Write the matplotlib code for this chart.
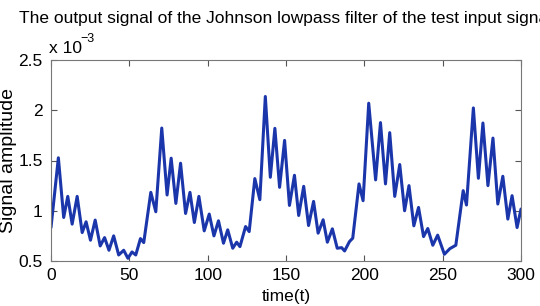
import matplotlib
matplotlib.use('Agg')
import matplotlib.pyplot as plt
import numpy as np

# time samples (extrema) and amplitude in units of 1e-3
t = [0, 4.7, 8.1, 10.7, 13.5, 16.7, 19.9, 22.4, 25.2, 28.2,
     31.4, 34.2, 37.0, 40.0, 43.2, 46.4, 49.1, 51.7, 54.1, 57.1,
     59.2, 63.7, 66.9, 70.7, 74.1, 76.7, 79.7, 82.7, 85.9, 88.7,
     91.5, 94.4, 97.8, 101.0, 104.0, 106.9, 110.1, 112.8, 116.0, 118.5,
     120.6, 124.2, 126.5, 130.1, 133.3, 136.8, 140.0, 142.9, 145.9, 149.1,
     152.2, 155.4, 158.1, 161.3, 164.4, 167.6, 170.5, 173.7, 176.4, 179.6,
     182.7, 185.5, 187.4, 190.5, 192.6, 196.6, 199.2, 202.8, 207.2, 210.3,
     213.5, 216.2, 219.4, 222.6, 225.7, 228.5, 231.6, 234.6, 237.8, 240.5,
     243.7, 246.8, 251.1, 254.6, 258.4, 263.1, 265.2, 269.6, 272.8, 275.7,
     278.9, 282.1, 285.2, 288.4, 291.6, 294.3, 297.5, 300]
amp_e3 = [0.833, 1.527, 0.933, 1.143, 0.867, 1.143, 0.783, 0.89, 0.707, 0.907,
          0.65, 0.733, 0.607, 0.75, 0.56, 0.607, 0.527, 0.59, 0.56, 0.723,
          0.683, 1.183, 0.99, 1.823, 1.157, 1.523, 1.073, 1.473, 0.973, 1.183,
          0.883, 1.143, 0.80, 0.967, 0.75, 0.90, 0.677, 0.81, 0.627, 0.687,
          0.643, 0.843, 0.793, 1.32, 1.11, 2.137, 1.333, 1.82, 1.233, 1.70,
          1.053, 1.353, 0.953, 1.243, 0.853, 1.093, 0.777, 0.91, 0.687, 0.82,
          0.627, 0.633, 0.60, 0.693, 0.727, 1.267, 1.10, 2.07, 1.307, 1.877,
          1.267, 1.777, 1.143, 1.46, 1.0, 1.25, 0.85, 1.033, 0.743, 0.823,
          0.657, 0.757, 0.567, 0.623, 0.657, 1.2, 1.057, 2.023, 1.323, 1.873,
          1.25, 1.723, 1.067, 1.343, 0.917, 1.15, 0.833, 1.017]

xticks = [0, 50, 100, 150, 200, 250, 300]
yticks = [0.5, 1, 1.5, 2, 2.5]

plt.rcParams['font.family'] = ['Liberation Sans', 'DejaVu Sans']

fig = plt.figure(figsize=(5.4, 3.06), dpi=100)
ax = fig.add_axes([51/540, 1-261/306, 470/540, 201/306])

ax.plot(np.array(t), np.array(amp_e3)*1e-3, color='#1b36ab', lw=2.2,
        solid_joinstyle='round', solid_capstyle='round')

ax.set_xlim(0, 300)
ax.set_ylim(0.5e-3, 2.5e-3)
ax.set_xticks(xticks)
ax.set_xticklabels([str(v) for v in xticks])
ax.set_yticks([v*1e-3 for v in yticks])
ax.set_yticklabels(['%g' % v for v in yticks])
ax.tick_params(direction='in', top=True, right=True, length=4, width=0.8,
               colors='#555555', labelcolor='black', labelsize=12.5)
ax.tick_params(axis='x', pad=5)
ax.tick_params(axis='y', pad=6)
for s in ax.spines.values():
    s.set_color('#777777')
    s.set_linewidth(0.8)

ax.set_xlabel('time(t)', fontsize=12.5, labelpad=4)
ax.set_ylabel('Signal amplitude', fontsize=14)
ax.yaxis.set_label_coords(-0.072, 0.5)
ax.set_title('The output signal of the Johnson lowpass filter of the test input signal',
             fontsize=12.5, pad=27)

# MATLAB style exponent above the axis
ax.text(-0.005, 1.02, 'x 10', transform=ax.transAxes, fontsize=12.5, ha='left', va='bottom')
ax.text(0.062, 1.075, '\u22123', transform=ax.transAxes, fontsize=9, ha='left', va='bottom')

fig.savefig('out.png', dpi=100)
